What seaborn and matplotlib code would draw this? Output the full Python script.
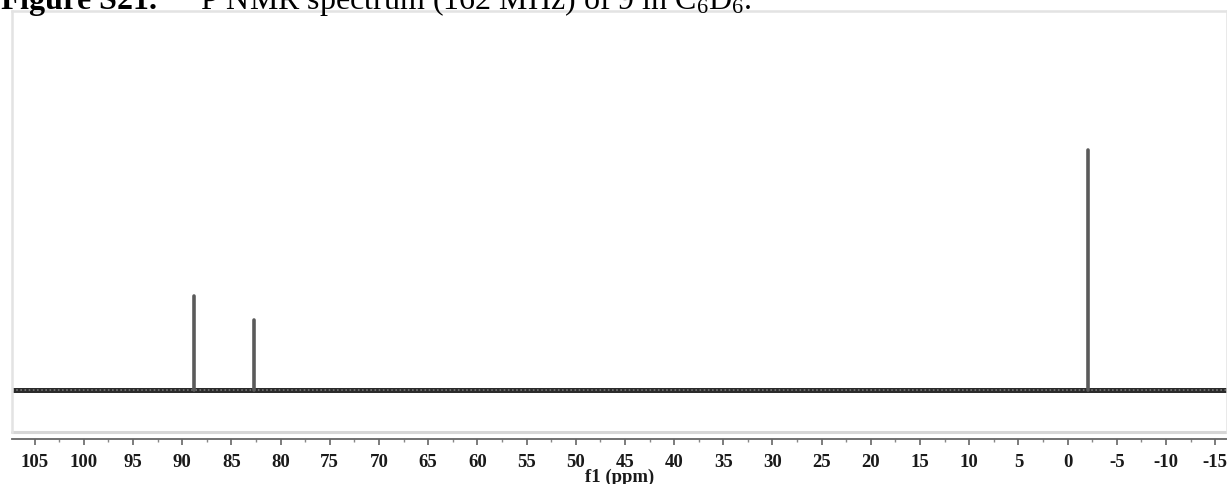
import numpy as np
import pandas as pd
import matplotlib
matplotlib.use("Agg")
import matplotlib.pyplot as plt
import seaborn as sns
from matplotlib.ticker import MultipleLocator

# ---- data ----
peak_ppm = [88.8, 82.7, -2.1]
peak_height = [0.39, 0.29, 1.00]
tick_values = list(range(-15, 110, 5))
tick_labels = [str(v) for v in tick_values]
x_range = [107.3, -16.2]
title_text = "$\\bf{Figure\\ S21.}$  $^{31}$P NMR spectrum (162 MHz) of 9 in C$_6$D$_6$."
xlabel_text = "f1 (ppm)"

sns.set_theme(style="white")
plt.rcParams["font.family"] = ["Liberation Serif", "DejaVu Serif"]
plt.rcParams["mathtext.fontset"] = "custom"
plt.rcParams["mathtext.rm"] = "Liberation Serif"
plt.rcParams["mathtext.bf"] = "Liberation Serif:bold"
plt.rcParams["mathtext.it"] = "Liberation Serif:italic"

W, H = 1227, 484
fig = plt.figure(figsize=(W / 100, H / 100), dpi=100)
ax = fig.add_axes([12 / W, (H - 432) / H, (W - 12) / W, (432 - 11) / H])

# peaks as vertical segments
rows = []
for i, (p, h) in enumerate(zip(peak_ppm, peak_height)):
    rows.append({"ppm": p, "I": 0.0, "pk": i})
    rows.append({"ppm": p, "I": h, "pk": i})
df_pk = pd.DataFrame(rows)
df_base = pd.DataFrame({"ppm": x_range, "I": [0.0, 0.0]})

sns.lineplot(data=df_base, x="ppm", y="I", ax=ax, color="#2b2b2b", lw=3.6,
             estimator=None, sort=False)
sns.lineplot(data=df_base, x="ppm", y="I", ax=ax, color="#777777", lw=1.2,
             estimator=None, sort=False, dashes=False, linestyle=(0, (1, 1.5)))
sns.lineplot(data=df_pk, x="ppm", y="I", units="pk", ax=ax, color="#5a5a5a",
             lw=2.6, estimator=None, sort=False)

ax.set_xlim(x_range[0], x_range[1])
ax.set_ylim(-0.175, 1.58)
ax.set_yticks([])
ax.set_ylabel("")

for s in ["top", "left", "right"]:
    ax.spines[s].set_color("#e3e3e3")
    ax.spines[s].set_linewidth(1.8)
ax.spines["bottom"].set_position(("outward", 5.0))
ax.spines["bottom"].set_color("#666666")
ax.spines["bottom"].set_linewidth(1.3)
ax.plot([0, 1], [0, 0], transform=ax.transAxes, clip_on=False,
        color="#d6d6d6", lw=2.2)

ax.set_xticks(tick_values)
ax.set_xticklabels(tick_labels)
ax.xaxis.set_minor_locator(MultipleLocator(2.5))
ax.tick_params(axis="x", which="major", direction="out", length=4.5, width=1.2,
               color="#666666", pad=6.5, labelsize=13.5, bottom=True)
ax.tick_params(axis="x", which="minor", direction="out", length=2.2, width=1.0,
               color="#888888", bottom=True)
for t in ax.get_xticklabels():
    t.set_fontweight("bold")
    t.set_color("#1a1a1a")
ax.set_xlabel(xlabel_text, fontsize=13.5, fontweight="bold", color="#1a1a1a",
              labelpad=-2)

fig.text(0.0, 1 - 9.5 / H, title_text, fontsize=23, va="baseline", ha="left",
         color="black")

fig.savefig("out.png", dpi=100)
